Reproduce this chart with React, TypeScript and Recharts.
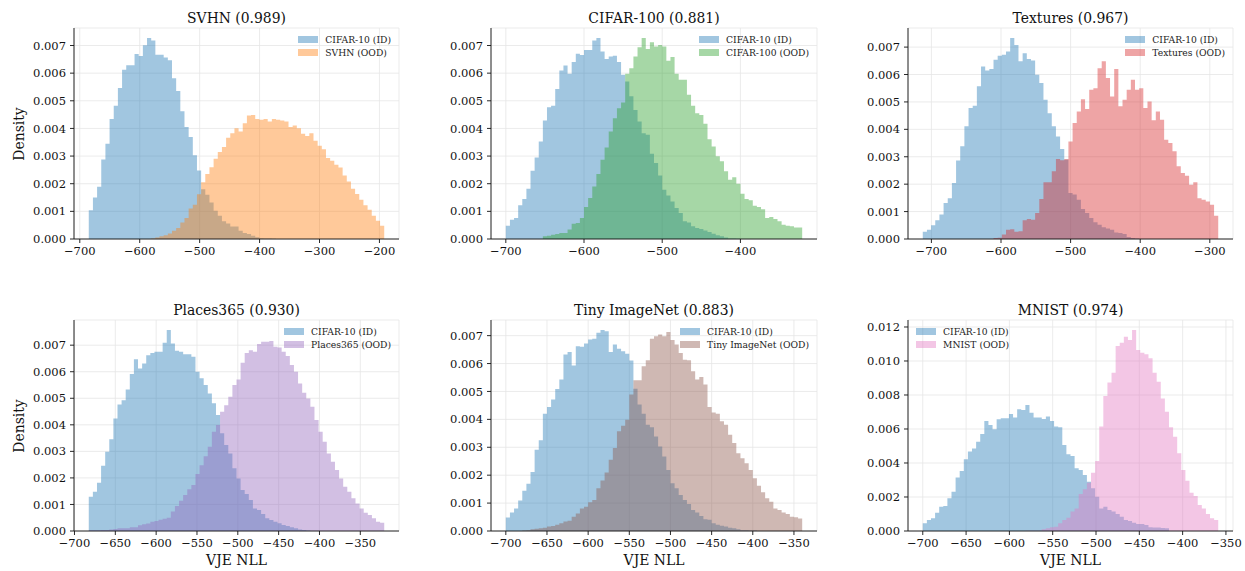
import React from 'react';
import { ComposedChart, Area, XAxis, YAxis, CartesianGrid } from 'recharts';

// densities are stored in units of 1e-3, one value per histogram bin

// SVHN: 71 bins over [-685, -192]
const SVHN_RANGE = [-685, -192];
const SVHN_ID = [
  1.04, 1.5, 1.89, 2.88, 3.45, 4.34, 4.82, 5.46, 6.12, 6.29, 6.29, 6.69, 6.62, 7.01, 7.27, 7.18, 6.67, 6.67, 6.57, 6.47,
  5.82, 5.35, 4.62, 4.05, 3.69, 3.03, 2.48, 1.8, 1.6, 1.32, 1.02, 0.84, 0.64, 0.56, 0.45, 0.45, 0.3, 0.22, 0.18, 0.12,
  0.06, 0.03, 0.02, 0.02, 0.01, 0, 0, 0, 0, 0, 0, 0, 0, 0, 0, 0, 0, 0, 0, 0, 0, 0, 0, 0, 0, 0, 0, 0, 0, 0, 0,
];
const SVHN_OOD = [
  0, 0, 0, 0, 0, 0, 0, 0, 0, 0, 0, 0, 0, 0, 0, 0.02, 0.05, 0.1, 0.14, 0.2,
  0.3, 0.4, 0.6, 0.76, 1.1, 1.24, 1.62, 2.05, 2.35, 2.6, 2.9, 3.15, 3.33, 3.66, 3.83, 4.01, 3.89, 4.19, 4.47, 4.49,
  4.34, 4.31, 4.34, 4.25, 4.34, 4.31, 4.29, 4.25, 4.05, 4.11, 4.01, 3.81, 3.73, 3.83, 3.55, 3.37, 3.25, 2.93, 2.83, 2.69,
  2.59, 2.3, 2.08, 1.82, 1.63, 1.42, 1.22, 1.06, 0.84, 0.66, 0.48,
];

// CIFAR-100: 72 bins over [-700, -321]
const C100_RANGE = [-700, -321];
const C100_ID = [
  0.48, 0.7, 0.76, 1.22, 1.45, 1.82, 2.47, 2.95, 3.53, 4.29, 4.77, 4.82, 5.43, 6.1, 6.28, 5.98, 6.4, 6.7, 6.66, 6.84,
  6.84, 7.18, 7.27, 6.78, 6.51, 6.6, 6.63, 6.4, 5.94, 5.7, 5.16, 4.67, 4.25, 3.83, 3.77, 3.08, 2.75, 2.3, 1.78, 1.57,
  1.36, 1.12, 0.94, 0.64, 0.6, 0.46, 0.4, 0.36, 0.31, 0.25, 0.19, 0.14, 0.1, 0.05, 0.02, 0.02, 0.01, 0, 0, 0,
  0, 0, 0, 0, 0, 0, 0, 0, 0, 0, 0, 0,
];
const C100_OOD = [
  0, 0, 0, 0, 0, 0, 0, 0, 0, 0.1, 0.12, 0.15, 0.18, 0.22, 0.22, 0.34, 0.55, 0.58, 0.76, 1.16,
  1.48, 1.9, 2.35, 2.87, 3.31, 3.89, 4.37, 4.73, 4.94, 5.98, 6.18, 6.6, 6.94, 7.27, 6.87, 7.12, 6.96, 7.02, 6.96, 6.45,
  6.58, 5.98, 5.76, 5.76, 5.22, 4.82, 4.55, 4.49, 4.17, 3.61, 3.35, 2.99, 2.81, 2.45, 2.14, 2.23, 2.0, 1.64, 1.45, 1.4,
  1.2, 1.16, 1.08, 0.76, 0.8, 0.72, 0.64, 0.52, 0.48, 0.46, 0.42, 0.42,
];

// Textures: 71 bins over [-712.4, -287.9]
const TEX_RANGE = [-712.4, -287.9];
const TEX_ID = [
  0.26, 0.34, 0.5, 0.68, 0.89, 1.31, 1.49, 2.04, 2.86, 3.38, 4.11, 4.78, 4.86, 5.57, 6.29, 6.15, 6.2, 6.54, 6.68, 6.72,
  6.84, 7.33, 7.08, 6.48, 6.78, 6.57, 6.51, 5.99, 5.69, 5.08, 4.59, 4.11, 3.74, 3.28, 2.89, 1.68, 1.62, 1.43, 1.09, 0.95,
  0.77, 0.61, 0.52, 0.43, 0.38, 0.34, 0.24, 0.22, 0.18, 0.07, 0.04, 0.02, 0, 0, 0, 0, 0, 0, 0, 0,
  0, 0, 0, 0, 0, 0, 0, 0, 0, 0, 0,
];
const TEX_OOD = [
  0, 0, 0, 0, 0, 0, 0, 0, 0, 0, 0, 0, 0, 0, 0, 0, 0, 0.04, 0.05, 0.16,
  0.34, 0.36, 0.26, 0.28, 0.68, 0.73, 0.7, 0.95, 1.46, 2.07, 2.07, 2.47, 2.92, 2.87, 2.92, 3.56, 4.23, 4.65, 5.1, 4.74,
  5.44, 5.5, 6.23, 6.48, 5.87, 5.2, 6.2, 4.84, 5.08, 5.44, 5.81, 5.44, 5.5, 4.78, 5.02, 4.33, 4.65, 4.35, 3.62, 3.5,
  3.2, 2.65, 2.41, 2.31, 1.98, 2.07, 1.49, 1.43, 1.37, 1.25, 0.85,
];

// Places365: 72 bins over [-682.5, -320.7]
const P365_RANGE = [-682.5, -320.7];
const P365_ID = [
  1.29, 1.48, 1.82, 2.46, 2.99, 3.46, 4.24, 4.77, 4.93, 5.33, 5.91, 6.47, 6.12, 6.31, 6.62, 6.71, 6.75, 6.75, 7.09, 7.57,
  7.06, 6.79, 6.75, 6.66, 6.66, 6.56, 6.0, 5.75, 5.5, 5.18, 4.81, 4.37, 3.68, 3.24, 2.92, 2.36, 1.98, 1.54, 1.39, 1.17,
  0.85, 0.79, 0.64, 0.48, 0.41, 0.35, 0.29, 0.23, 0.19, 0.14, 0.1, 0.06, 0.04, 0.02, 0, 0, 0, 0, 0, 0,
  0, 0, 0, 0, 0, 0, 0, 0, 0, 0, 0, 0,
];
const P365_OOD = [
  0.03, 0.03, 0.03, 0.04, 0.04, 0.06, 0.08, 0.1, 0.1, 0.1, 0.14, 0.14, 0.22, 0.25, 0.28, 0.35, 0.38, 0.42, 0.46, 0.5,
  0.73, 0.94, 1.14, 1.36, 1.57, 1.73, 2.15, 2.48, 2.82, 3.17, 3.74, 3.99, 4.49, 4.74, 5.06, 5.5, 5.71, 6.34, 6.71, 6.81,
  6.75, 7.04, 7.13, 7.13, 7.16, 6.94, 6.91, 6.75, 6.59, 6.25, 6.0, 5.56, 5.21, 4.99, 4.68, 4.18, 3.74, 3.36, 2.92, 2.61,
  2.3, 1.98, 1.67, 1.48, 1.23, 1.04, 0.85, 0.69, 0.6, 0.48, 0.35, 0.31,
];

// Tiny ImageNet: 72 bins over [-700, -340]
const TIN_RANGE = [-700, -340];
const TIN_ID = [
  0.48, 0.66, 0.81, 1.09, 1.44, 1.69, 2.11, 2.91, 3.25, 4.2, 4.44, 4.71, 5.09, 5.43, 6.32, 6.41, 5.93, 6.62, 6.6, 6.72,
  6.86, 6.89, 7.1, 7.2, 7.16, 6.41, 6.68, 6.53, 6.44, 6.35, 6.11, 5.1, 4.53, 4.2, 3.81, 3.72, 3.39, 3.03, 2.67, 2.19,
  1.71, 1.53, 1.29, 1.11, 0.97, 0.75, 0.66, 0.54, 0.42, 0.4, 0.28, 0.22, 0.19, 0.16, 0.12, 0.1, 0.06, 0.03, 0.03, 0.02,
  0.02, 0, 0, 0, 0, 0, 0, 0, 0, 0, 0, 0,
];
const TIN_OOD = [
  0, 0, 0, 0, 0.02, 0.03, 0.06, 0.08, 0.1, 0.12, 0.16, 0.18, 0.22, 0.28, 0.34, 0.37, 0.51, 0.63, 0.81, 0.87,
  1.03, 1.11, 1.53, 1.81, 2.1, 2.55, 2.97, 3.57, 3.77, 3.99, 4.89, 5.4, 5.4, 5.9, 6.12, 6.89, 6.98, 7.04, 6.98, 7.13,
  6.84, 6.68, 6.38, 6.14, 6.12, 5.72, 5.43, 5.52, 5.25, 4.44, 4.25, 4.2, 3.93, 3.81, 3.45, 3.15, 2.79, 2.61, 2.43, 2.19,
  1.89, 1.62, 1.39, 1.17, 1.05, 0.81, 0.75, 0.66, 0.61, 0.51, 0.49, 0.45,
];

// MNIST: 72 bins over [-700, -358.9]
const MN_RANGE = [-700, -358.9];
const MN_ID = [
  0.45, 0.65, 0.75, 1.08, 1.43, 1.47, 1.92, 2.31, 3.14, 3.53, 4.22, 4.67, 4.86, 5.25, 5.71, 6.47, 6.24, 5.98, 6.57, 6.63,
  6.63, 6.88, 6.67, 7.16, 7.12, 7.41, 6.96, 6.67, 6.67, 6.59, 6.73, 6.47, 6.14, 6.1, 5.06, 4.51, 4.41, 3.69, 3.59, 3.29,
  2.9, 2.51, 2.02, 1.33, 1.43, 1.24, 1.14, 1.0, 0.84, 0.65, 0.59, 0.49, 0.41, 0.41, 0.35, 0.22, 0.2, 0.2, 0.18, 0.16,
  0, 0, 0, 0, 0, 0, 0, 0, 0, 0, 0, 0,
];
const MN_OOD = [
  0, 0, 0, 0, 0, 0, 0, 0, 0, 0, 0, 0, 0, 0, 0, 0, 0, 0, 0, 0,
  0, 0, 0, 0, 0, 0.01, 0.01, 0.01, 0.02, 0.1, 0.16, 0.22, 0.25, 0.45, 0.65, 0.78, 1.14, 1.33, 2.18, 2.45,
  2.84, 3.43, 4.12, 6.14, 7.94, 8.73, 9.31, 10.88, 11.08, 11.43, 11.24, 11.82, 10.65, 10.49, 10.39, 10.16, 9.31, 8.78, 7.8, 7.02,
  6.1, 5.55, 4.57, 3.59, 2.96, 2.25, 2.06, 1.53, 1.33, 1.0, 0.75, 0.65,
];

const X_TICKS_SVHN = [-700, -600, -500, -400, -300, -200];
const X_TICKS_C100 = [-700, -600, -500, -400];
const X_TICKS_TEX = [-700, -600, -500, -400, -300];
const X_TICKS_50 = [-700, -650, -600, -550, -500, -450, -400, -350];
const Y_TICKS = [0, 0.001, 0.002, 0.003, 0.004, 0.005, 0.006, 0.007];
const Y_TICKS_MNIST = [0, 0.002, 0.004, 0.006, 0.008, 0.01, 0.012];

const FONT = '"DejaVu Serif", serif';
const ID_COLOR = '#1f77b4';
const ALPHA = 0.42;
const Y_W = 62;
const PLOT_H = 211;

const PANELS = [
  { title: 'SVHN (0.989)', ood: 'SVHN (OOD)', color: '#ff7f0e', range: SVHN_RANGE, id: SVHN_ID, oodVals: SVHN_OOD, xTicks: X_TICKS_SVHN, yTicks: Y_TICKS, left: 74, top: 28, w: 325, legendLeft: false, yLabel: true, xLabel: false },
  { title: 'CIFAR-100 (0.881)', ood: 'CIFAR-100 (OOD)', color: '#2ca02c', range: C100_RANGE, id: C100_ID, oodVals: C100_OOD, xTicks: X_TICKS_C100, yTicks: Y_TICKS, left: 491, top: 28, w: 326, legendLeft: false, yLabel: false, xLabel: false },
  { title: 'Textures (0.967)', ood: 'Textures (OOD)', color: '#d62728', range: TEX_RANGE, id: TEX_ID, oodVals: TEX_OOD, xTicks: X_TICKS_TEX, yTicks: Y_TICKS, left: 908, top: 28, w: 325, legendLeft: false, yLabel: false, xLabel: false },
  { title: 'Places365 (0.930)', ood: 'Places365 (OOD)', color: '#9467bd', range: P365_RANGE, id: P365_ID, oodVals: P365_OOD, xTicks: X_TICKS_50, yTicks: Y_TICKS, left: 74, top: 320, w: 325, legendLeft: false, yLabel: true, xLabel: true },
  { title: 'Tiny ImageNet (0.883)', ood: 'Tiny ImageNet (OOD)', color: '#8c564b', range: TIN_RANGE, id: TIN_ID, oodVals: TIN_OOD, xTicks: X_TICKS_50, yTicks: Y_TICKS, left: 491, top: 320, w: 326, legendLeft: false, yLabel: false, xLabel: true },
  { title: 'MNIST (0.974)', ood: 'MNIST (OOD)', color: '#e377c2', range: MN_RANGE, id: MN_ID, oodVals: MN_OOD, xTicks: X_TICKS_50, yTicks: Y_TICKS_MNIST, left: 908, top: 320, w: 325, legendLeft: true, yLabel: false, xLabel: true },
];

function buildRows(range: number[], id: number[], ood: number[]) {
  const [lo, hi] = range;
  const n = id.length;
  const step = (hi - lo) / n;
  const rows = id.map((v, i) => ({ x: lo + i * step, id: v / 1000, ood: ood[i] / 1000 }));
  rows.push({ x: hi, id: 0, ood: 0 });
  return rows;
}

const fmtX = (v: number) => (v < 0 ? '\u2212' + Math.abs(v) : String(v));
const fmtY = (v: number) => v.toFixed(3);

const tickStyle = { fontSize: 11.5, fill: '#111', fontFamily: FONT };
const lineStyle = { stroke: '#111', strokeWidth: 0.9 };

function Panel({ p }: { p: (typeof PANELS)[number] }) {
  const rows = buildRows(p.range, p.id, p.oodVals);
  const span = p.range[1] - p.range[0];
  const xDomain = [p.range[0] - 0.05 * span, p.range[1] + 0.05 * span];
  const yMax = Math.max(...p.id, ...p.oodVals) / 1000 * 1.05;
  const right = 12;
  const topPad = 5;

  return (
    <>
      <div style={{ position: 'absolute', left: p.left - Y_W, top: p.top - topPad, fontFamily: FONT }}>
        <ComposedChart
          width={Y_W + p.w + right}
          height={topPad + PLOT_H + 30}
          data={rows}
          margin={{ top: topPad, right, bottom: 0, left: 0 }}
          style={{ fontFamily: FONT }}
        >
          <CartesianGrid stroke="#e6e6e6" strokeWidth={0.8} />
          <XAxis
            type="number"
            dataKey="x"
            domain={xDomain}
            allowDataOverflow
            ticks={p.xTicks}
            interval={0}
            tickFormatter={fmtX}
            tick={tickStyle}
            tickSize={4}
            tickMargin={4}
            axisLine={lineStyle}
            tickLine={lineStyle}
            height={30}
          />
          <YAxis
            type="number"
            domain={[0, yMax]}
            allowDataOverflow
            ticks={p.yTicks}
            interval={0}
            tickFormatter={fmtY}
            tick={tickStyle}
            tickSize={4}
            tickMargin={4}
            axisLine={lineStyle}
            tickLine={lineStyle}
            width={Y_W}
          />
          <Area type="stepAfter" dataKey="id" baseValue={0} stroke="none" fill={ID_COLOR} fillOpacity={ALPHA} isAnimationActive={false} />
          <Area type="stepAfter" dataKey="ood" baseValue={0} stroke="none" fill={p.color} fillOpacity={ALPHA} isAnimationActive={false} />
        </ComposedChart>
      </div>

      <div
        style={{
          position: 'absolute', left: p.left, top: p.top - 18, width: p.w,
          textAlign: 'center', fontFamily: FONT, fontSize: 13.9, lineHeight: '16px', color: '#111',
        }}
      >
        {p.title}
      </div>

      <div
        style={{
          position: 'absolute', top: p.top + 5.5,
          ...(p.legendLeft ? { left: p.left + 8 } : { right: 1245 - (p.left + p.w) + 8 }),
          fontFamily: FONT, fontSize: 9.2, color: '#222',
        }}
      >
        {[{ label: 'CIFAR-10 (ID)', color: ID_COLOR }, { label: p.ood, color: p.color }].map((e) => (
          <div key={e.label} style={{ display: 'flex', alignItems: 'center', height: 12.7 }}>
            <div style={{ width: 20, height: 7, background: e.color, opacity: ALPHA, marginRight: 7 }} />
            <span style={{ whiteSpace: 'nowrap' }}>{e.label}</span>
          </div>
        ))}
      </div>

      {p.yLabel && (
        <div
          style={{
            position: 'absolute', left: 19 - 40, top: p.top + PLOT_H / 2 - 8, width: 80, height: 16,
            textAlign: 'center', lineHeight: '16px', fontFamily: FONT, fontSize: 13.9, color: '#111',
            transform: 'rotate(-90deg)',
          }}
        >
          Density
        </div>
      )}
      {p.xLabel && (
        <div
          style={{
            position: 'absolute', left: p.left, top: 552, width: p.w,
            textAlign: 'center', lineHeight: '16px', fontFamily: FONT, fontSize: 13.9, color: '#111',
          }}
        >
          VJE NLL
        </div>
      )}
    </>
  );
}

export default function App() {
  return (
    <div style={{ position: 'absolute', left: 0, top: 0, width: 1245, height: 571, background: '#fff', overflow: 'hidden', fontFamily: FONT }}>
      {PANELS.map((p) => (
        <Panel key={p.title} p={p} />
      ))}
    </div>
  );
}
